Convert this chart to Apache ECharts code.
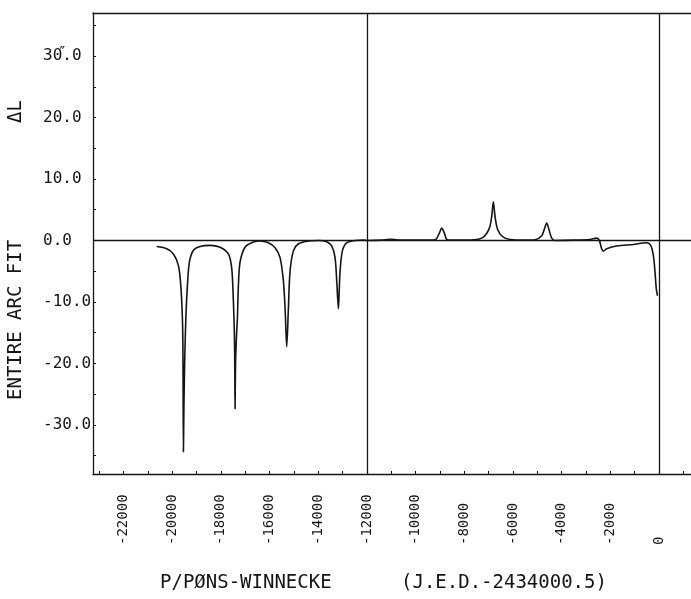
<!DOCTYPE html>
<html>
<head>
<meta charset="utf-8">
<script src="https://cdn.jsdelivr.net/npm/echarts@6/dist/echarts.min.js"></script>
<style>
  html, body { margin: 0; padding: 0; background: #ffffff; }
  #chart { width: 691px; height: 599px; }
</style>
</head>
<body>
<div id="chart"></div>
<script>
// Residuals of the entire-arc fit, Delta L (arc seconds), against J.E.D. - 2434000.5
const jedOffset = [
  -20631, -20220, -19946, -19741, -19645, -19577, -19555, -19536,
  -19515, -19480, -19430, -19371, -19289, -19125, -18851, -18440,
  -18030, -17688, -17550, -17482, -17441, -17425, -17414, -17395,
  -17350, -17318, -17277, -17208, -17003, -16661, -16387, -16045,
  -15771, -15566, -15429, -15360, -15292, -15223, -15155, -15018,
  -14813, -14402, -13991, -13649, -13443, -13307, -13238, -13170,
  -13130, -13101, -13006, -12828, -12485, -12143, -12000, -11400,
  -11050, -10700, -9600, -9200, -9022, -8926, -8816, -8693,
  -8200, -7625, -7215, -6968, -6872, -6804, -6735, -6626,
  -6393, -5983, -5500, -5093, -4819, -4709, -4613, -4518,
  -4408, -4271, -3500, -2834, -2560, -2451, -2355, -2286,
  -2149, -1739, -1054, -506, -342, -233, -164, -110, -60
];
const arcFitDeltaL = [
  -1.0, -1.36, -2.2, -4.1, -7.3, -12.7, -18.2, -34.4,
  -27.0, -19.0, -12.0, -7.3, -3.5, -1.6, -0.98, -0.8,
  -1.1, -2.2, -4.6, -10.0, -15.5, -21.0, -27.4, -20.0,
  -15.0, -12.7, -7.3, -3.5, -1.1, -0.27, -0.1, -0.38,
  -1.2, -2.8, -6.6, -11.0, -17.3, -11.0, -5.0, -1.7,
  -0.54, -0.1, 0.0, -0.2, -0.9, -2.8, -6.6, -11.1,
  -7.6, -5.0, -1.7, -0.38, 0.0, 0.05, 0.0, 0.05,
  0.2, 0.05, 0.05, 0.1, 1.19, 2.0, 1.19, 0.1,
  0.05, 0.1, 0.54, 2.0, 3.9, 6.3, 3.9, 1.74,
  0.54, 0.1, 0.05, 0.1, 0.76, 1.84, 2.82, 1.74,
  0.38, 0.0, 0.05, 0.16, 0.38, 0.0, -1.36, -1.74,
  -1.36, -0.92, -0.65, -0.38, -0.81, -2.4, -5.1, -7.9, -9.0
];

// Axis ticks and labels
const xLabelValues = [-22000, -20000, -18000, -16000, -14000, -12000, -10000, -8000, -6000, -4000, -2000, 0];
const xTickValues = [-23000, -22000, -21000, -20000, -19000, -18000, -17000, -16000, -15000, -14000, -13000, -12000,
  -11000, -10000, -9000, -8000, -7000, -6000, -5000, -4000, -3000, -2000, -1000, 0, 1000];
const yLabelValues = [-30, -20, -10, 0, 10, 20, 30];
const yTickValues = [-35, -30, -25, -20, -15, -10, -5, 0, 5, 10, 15, 20, 25, 30, 35];
const guideJed = [-12000, 0];

// Titles
const cometName = 'P/PØNS-WINNECKE';
const epochNote = '(J.E.D.-2434000.5)';
const yTitle = 'ENTIRE ARC FIT';
const yUnit = 'ΔL';

const ink = '#141414';
const mono = '"DejaVu Sans Mono", "Liberation Mono", monospace';

const chart = echarts.init(document.getElementById('chart'), null, { renderer: 'canvas' });

const xRange = { min: -23250, max: 1315 };

// the top label carries the arc-second mark over its decimal point
function yLabel(v) {
  if (v === 30) return '{n|30}{sec|″}{n|.0}';
  return '{n|' + v.toFixed(1) + '}';
}

chart.setOption({
  animation: false,
  backgroundColor: '#ffffff',
  grid: { left: 93, right: 0, top: 13, bottom: 125, containLabel: false },
  xAxis: [
    {
      type: 'value',
      position: 'bottom',
      min: xRange.min,
      max: xRange.max,
      splitLine: { show: false },
      axisLine: { onZero: false, lineStyle: { color: ink, width: 1.3 } },
      axisTick: { inside: true, length: 3, customValues: xTickValues, lineStyle: { color: ink, width: 1 } },
      axisLabel: {
        customValues: xLabelValues,
        rotate: 90,
        align: 'left',
        verticalAlign: 'middle',
        margin: 71,
        fontFamily: mono,
        fontSize: 14,
        color: ink,
        formatter: (v) => String(v)
      }
    },
    {
      type: 'value',
      position: 'top',
      min: xRange.min,
      max: xRange.max,
      splitLine: { show: false },
      axisLine: { show: true, onZero: false, lineStyle: { color: ink, width: 1.3 } },
      axisTick: { show: false },
      axisLabel: { show: false }
    }
  ],
  yAxis: {
    type: 'value',
    min: -38,
    max: 37,
    splitLine: { show: false },
    axisLine: { show: true, onZero: false, lineStyle: { color: ink, width: 1.3 } },
    axisTick: { inside: true, length: 3, customValues: yTickValues, lineStyle: { color: ink, width: 1 } },
    axisLabel: {
      customValues: yLabelValues,
      align: 'left',
      margin: 50,
      color: ink,
      formatter: yLabel,
      rich: {
        n: { fontFamily: mono, fontSize: 16, color: ink, lineHeight: 18 },
        sec: { fontFamily: mono, fontSize: 15, color: ink, width: 0, align: 'center',
               verticalAlign: 'top', lineHeight: 18, padding: [0, 0, 0, 0] }
      }
    }
  },
  series: [
    {
      type: 'line',
      xAxisIndex: 0,
      data: jedOffset.map((x, i) => [x, arcFitDeltaL[i]]),
      showSymbol: false,
      smooth: 0.3,
      lineStyle: { color: ink, width: 1.6 },
      markLine: {
        silent: true,
        symbol: ['none', 'none'],
        label: { show: false },
        lineStyle: { color: ink, type: 'solid', width: 1.3 },
        data: guideJed.map((x) => ({ xAxis: x })).concat([{ yAxis: 0 }])
      }
    }
  ],
  graphic: [
    {
      type: 'text',
      x: 16, y: 400,
      rotation: Math.PI / 2,
      style: { text: yTitle, font: '19px ' + mono, fill: ink, align: 'left', verticalAlign: 'middle' }
    },
    {
      type: 'text',
      x: 16, y: 123,
      rotation: Math.PI / 2,
      style: { text: yUnit, font: '19px ' + mono, fill: ink, align: 'left', verticalAlign: 'middle' }
    },
    {
      type: 'text',
      x: 160, y: 583,
      style: { text: cometName, font: '19px ' + mono, fill: ink, align: 'left', verticalAlign: 'middle' }
    },
    {
      type: 'text',
      x: 401, y: 583,
      style: { text: epochNote, font: '19px ' + mono, fill: ink, align: 'left', verticalAlign: 'middle' }
    }
  ]
});
</script>
</body>
</html>
